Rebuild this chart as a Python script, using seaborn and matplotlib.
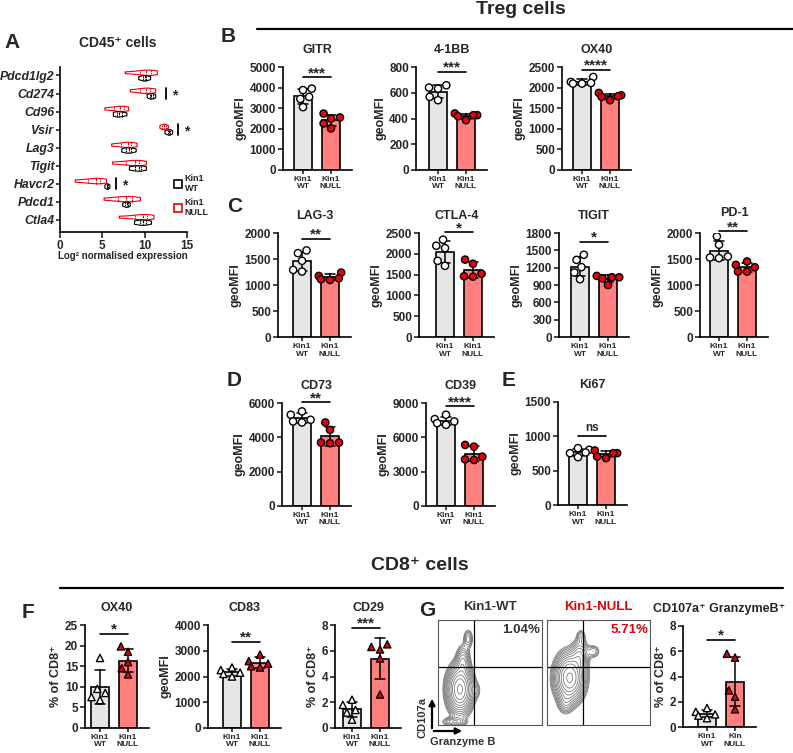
import numpy as np
import pandas as pd
import matplotlib
matplotlib.use('Agg')
import matplotlib.pyplot as plt
import seaborn as sns
from matplotlib.lines import Line2D
from matplotlib.patches import FancyArrowPatch

sns.set_theme(style='ticks')
plt.rcParams['font.family'] = ['Liberation Sans', 'DejaVu Sans']
plt.rcParams['font.weight'] = 'bold'
plt.rcParams['axes.labelweight'] = 'bold'
plt.rcParams['axes.titleweight'] = 'bold'

# ---------------- data ----------------
GROUPS = ['WT', 'NULL']
XT = ['Kin1\nWT', 'Kin1\nNULL']
XT_G = ['Kin1\nWT', 'Kin\nNULL']

# Panel A: log2 normalised expression (CD45+ cells)
GENES = ['Pdcd1lg2', 'Cd274', 'Cd96', 'Vsir', 'Lag3', 'Tigit', 'Havcr2', 'Pdcd1', 'Ctla4']
A_NULL = [[7.7, 9.0, 9.8, 10.2, 10.5, 11.0, 11.5],
          [8.3, 9.2, 9.8, 10.1, 10.4, 10.9, 11.3],
          [5.3, 6.0, 6.8, 7.1, 7.3, 7.7, 8.1],
          [11.8, 12.0, 12.2, 12.3, 12.4, 12.6, 12.8],
          [6.1, 6.9, 7.6, 8.0, 8.2, 8.6, 9.1],
          [6.2, 7.4, 8.3, 8.8, 9.1, 9.6, 10.2],
          [1.8, 2.8, 3.7, 4.2, 4.5, 5.0, 5.5],
          [5.2, 6.4, 7.3, 7.8, 8.1, 8.8, 9.5],
          [7.0, 8.3, 9.3, 9.8, 10.0, 10.5, 11.1]]
A_WT = [[9.3, 9.8, 10.0, 10.2, 10.7],
        [10.3, 10.6, 10.8, 11.0, 11.3],
        [6.3, 6.7, 7.0, 7.3, 7.9],
        [12.4, 12.7, 12.9, 13.0, 13.3],
        [7.3, 7.8, 8.1, 8.4, 9.0],
        [8.2, 8.8, 9.3, 9.6, 10.2],
        [5.3, 5.5, 5.6, 5.7, 5.9],
        [7.4, 7.7, 7.9, 8.0, 8.3],
        [8.8, 9.4, 9.8, 10.1, 10.8]]
A_SIG_GENES = ['Cd274', 'Vsir', 'Havcr2']
A_SIG_BAR_X = [12.5, 13.9, 6.6]
A_SIG_STAR_X = [13.6, 15.0, 7.6]

# Treg cells (geoMFI)
GITR_WT = [3950, 3880, 3550, 3450, 3050]
GITR_NULL = [2740, 2550, 2500, 2260, 2020]
BB_WT = [658, 640, 632, 568, 542]
BB_NULL = [439, 426, 426, 418, 387]
OX40T_WT = [2258, 2137, 2113, 2097, 2097]
OX40T_NULL = [1871, 1815, 1774, 1790, 1694]
LAG3_WT = [1665, 1613, 1465, 1290, 1258]
LAG3_NULL = [1239, 1174, 1129, 1110, 1097]
CTLA4_WT = [2339, 2194, 2137, 1831, 1710]
CTLA4_NULL = [1860, 1760, 1520, 1460, 1450]
TIGIT_WT = [1423, 1335, 1209, 1116, 1000]
TIGIT_NULL = [1057, 1034, 1034, 1017, 900]
PD1_WT = [1935, 1774, 1548, 1529, 1516]
PD1_NULL = [1452, 1387, 1342, 1258, 1258]
CD73_WT = [5511, 5316, 5023, 4925, 4866]
CD73_NULL = [4866, 4436, 3694, 3655, 3694]
CD39_WT = [7974, 7593, 7388, 7095, 7241]
CD39_NULL = [5335, 5189, 4310, 4017, 4076]
KI67_WT = [828, 804, 765, 755, 697]
KI67_NULL = [794, 755, 755, 706, 682]

# CD8+ cells
OX40C_WT = [17.0, 9.5, 8.5, 7.5, 6.8]
OX40C_NULL = [19.8, 18.5, 16.0, 14.5, 13.0]
CD83_WT = [2350, 2250, 2150, 2100, 2000]
CD83_NULL = [2850, 2600, 2500, 2400, 2350]
CD29_WT = [2.2, 1.8, 1.4, 1.2, 0.65]
CD29_NULL = [6.5, 6.3, 6.1, 5.4, 2.6]
CD107_WT = [1.5, 1.2, 1.0, 0.9, 0.7]
CD107_NULL = [5.8, 5.5, 2.9, 2.4, 1.4]

# Flow-cytometry contour populations (fractional axis units)
FLOW_WT_CX = [0.21, 0.24, 0.29, 0.16, 0.36]
FLOW_WT_CY = [0.34, 0.60, 0.82, 0.03, 0.33]
FLOW_WT_SX = [0.06, 0.035, 0.025, 0.06, 0.03]
FLOW_WT_SY = [0.11, 0.08, 0.05, 0.025, 0.05]
FLOW_WT_W = [1.0, 0.2, 0.1, 0.15, 0.05]
FLOW_NULL_CX = [0.22, 0.32, 0.45, 0.33, 0.18]
FLOW_NULL_CY = [0.45, 0.66, 0.70, 0.84, 0.22]
FLOW_NULL_SX = [0.07, 0.045, 0.035, 0.025, 0.04]
FLOW_NULL_SY = [0.11, 0.08, 0.035, 0.04, 0.06]
FLOW_NULL_W = [1.0, 0.2, 0.08, 0.07, 0.12]

# ---------------- figure ----------------
W, H = 793, 753
fig = plt.figure(figsize=(W / 100, H / 100), dpi=100)

RED = '#e8000b'
PAL_BAR = {'WT': '#e6e6e6', 'NULL': '#ff7f7f'}
PAL_PT = {'WT': 'white', 'NULL': RED}


def add_px(x0, y0, x1, y1):
    return fig.add_axes([x0 / W, 1 - y1 / H, (x1 - x0) / W, (y1 - y0) / H])


def style_axes(ax):
    sns.despine(ax=ax)
    for s in ['left', 'bottom']:
        ax.spines[s].set_linewidth(1.2)
        ax.spines[s].set_color('black')


def bar_panel(x0, ytop, ybot, off, title, wt, null, ymax, ystep, ylabel,
              sig, sig_y, marker='o', xt=XT, tpad=10):
    spacing = 28
    x1 = x0 + off + spacing + 21
    ax = add_px(x0, ytop, x1, ybot)
    df = pd.DataFrame({'group': ['WT'] * len(wt) + ['NULL'] * len(null),
                       'value': list(wt) + list(null)})
    sns.barplot(data=df, x='group', y='value', hue='group', order=GROUPS,
                hue_order=GROUPS, palette=PAL_BAR, saturation=1, errorbar='sd',
                capsize=0.35, err_kws={'color': 'black', 'linewidth': 1.1},
                edgecolor='black', linewidth=1.2, width=0.64, legend=False, ax=ax)
    sns.swarmplot(data=df, x='group', y='value', hue='group', order=GROUPS,
                  hue_order=GROUPS, palette=PAL_PT, marker=marker, size=5.2,
                  edgecolor='black', linewidth=1.0, legend=False, ax=ax)
    ax.set_xlim(-off / spacing, 1 + 21 / spacing)
    ax.set_ylim(0, ymax)
    ax.set_yticks(np.arange(0, ymax + ystep / 2, ystep))
    ax.set_xticks([0, 1])
    ax.set_xticklabels(xt, fontsize=6, fontweight='bold', linespacing=1.05)
    ax.tick_params(axis='y', length=3.5, width=1.2, labelsize=8.5, pad=1.5)
    ax.tick_params(axis='x', length=3, width=1.2, pad=1.5)
    for t in ax.get_yticklabels():
        t.set_fontweight('bold')
    ax.set_xlabel('')
    ax.set_ylabel(ylabel, fontsize=9, fontweight='bold', labelpad=2)
    ax.set_title(title, fontsize=9, fontweight='bold', pad=tpad)
    style_axes(ax)
    ax.plot([0, 1], [sig_y, sig_y], color='black', lw=1.2, clip_on=False)
    if sig == 'ns':
        ax.annotate('ns', (0.5, sig_y), xytext=(0, 1.5), textcoords='offset points',
                    ha='center', va='bottom', fontsize=8.5, fontweight='bold',
                    annotation_clip=False)
    else:
        ax.annotate(sig, (0.5, sig_y), xytext=(0, -2), textcoords='offset points',
                    ha='center', va='bottom', fontsize=11, fontweight='bold',
                    annotation_clip=False)
    return ax


# ---- Panel A ----
axA = add_px(60, 67, 187, 232)
rows = []
for g, nl, wt in zip(GENES, A_NULL, A_WT):
    rows += [(g, 'NULL', v) for v in nl]
    rows += [(g, 'WT', v) for v in wt]
dfa = pd.DataFrame(rows, columns=['gene', 'group', 'value'])
sns.violinplot(data=dfa, y='gene', x='value', hue='group', order=GENES,
               hue_order=['NULL', 'WT'], palette={'NULL': RED, 'WT': 'black'},
               saturation=1, fill=False, inner='quart', linewidth=0.8, width=0.6,
               cut=0, density_norm='width', legend=False, ax=axA)
axA.set_xlim(0, 15)
axA.set_ylim(8.67, -0.47)
axA.set_xticks([0, 5, 10, 15])
axA.set_xlabel('')
axA.set_ylabel('')
axA.tick_params(axis='y', length=3, width=1.2, labelsize=8.8, pad=1)
axA.tick_params(axis='x', length=4, width=1.2, labelsize=8.5, pad=2)
for t in axA.get_yticklabels():
    t.set_fontstyle('italic')
    t.set_fontweight('bold')
for t in axA.get_xticklabels():
    t.set_fontweight('bold')
style_axes(axA)
for g, bx, sx in zip(A_SIG_GENES, A_SIG_BAR_X, A_SIG_STAR_X):
    i = GENES.index(g)
    axA.plot([bx, bx], [i - 0.3, i + 0.3], color='black', lw=1.3, clip_on=False)
    axA.text(sx, i + 0.12, '*', ha='center', va='center', fontsize=10,
             fontweight='bold', clip_on=False)
handles = [Line2D([], [], marker='s', ls='', mfc='none', mec='black', ms=5.5, mew=1.2),
           Line2D([], [], marker='s', ls='', mfc='none', mec=RED, ms=5.5, mew=1.2)]
axA.legend(handles, ['Kin1\nWT', 'Kin1\nNULL'], loc='upper left',
           bbox_to_anchor=((171 - 60) / 127, (232 - 170) / 165), frameon=False,
           handletextpad=0.3, labelspacing=0.5, borderaxespad=0, handlelength=0.8,
           prop={'weight': 'bold', 'size': 6.5})
fig.text(118 / W, 1 - 43 / H, 'CD45⁺ cells', ha='center', va='center',
         fontsize=10, fontweight='bold')
fig.text(123 / W, 1 - 256 / H, 'Log² normalised expression', ha='center',
         va='center', fontsize=7, fontweight='bold')

# ---- Treg panels ----
bar_panel(283, 67, 170, 20, 'GITR', GITR_WT, GITR_NULL, 5000, 1000, 'geoMFI', '***', 4500)
bar_panel(416, 67, 170, 22, '4-1BB', BB_WT, BB_NULL, 800, 200, 'geoMFI', '***', 760)
bar_panel(562, 67, 170, 20, 'OX40', OX40T_WT, OX40T_NULL, 2500, 500, 'geoMFI', '****', 2435)
bar_panel(278, 233, 337, 24, 'LAG-3', LAG3_WT, LAG3_NULL, 2000, 500, 'geoMFI', '**', 1884)
bar_panel(419, 233, 337, 26, 'CTLA-4', CTLA4_WT, CTLA4_NULL, 2500, 500, 'geoMFI', '*', 2516)
bar_panel(559, 233, 337, 21, 'TIGIT', TIGIT_WT, TIGIT_NULL, 1800, 300, 'geoMFI', '*', 1645)
bar_panel(700, 233, 337, 19, 'PD-1', PD1_WT, PD1_NULL, 2000, 500, 'geoMFI', '**', 2032, tpad=12)
bar_panel(282, 403, 506, 20, 'CD73', CD73_WT, CD73_NULL, 6000, 2000, 'geoMFI', '**', 6030)
bar_panel(426, 403, 506, 20, 'CD39', CD39_WT, CD39_NULL, 9000, 3000, 'geoMFI', '****', 8707)
bar_panel(558, 402, 505, 20, 'Ki67', KI67_WT, KI67_NULL, 1500, 500, 'geoMFI', 'ns', 1000)

# ---- CD8 panels ----
bar_panel(85, 625, 728, 15, 'OX40', OX40C_WT, OX40C_NULL, 25, 5, '% of CD8⁺', '*', 22.8, marker='^')
bar_panel(208, 625, 728, 24, 'CD83', CD83_WT, CD83_NULL, 4000, 1000, 'geoMFI', '**', 3355, marker='^')
bar_panel(335, 625, 728, 17, 'CD29', CD29_WT, CD29_NULL, 8, 2, '% of CD8⁺', '***', 7.8, marker='^')
bar_panel(683, 626, 727, 24, 'CD107a⁺ GranzymeB⁺', CD107_WT, CD107_NULL, 8, 2, '% of CD8⁺',
          '*', 6.9, marker='^', xt=XT_G)

# ---- Flow plots ----
gx = np.linspace(0, 1, 240)
GX, GY = np.meshgrid(gx, gx)


def flow_panel(x0, x1, cx, cy, sx, sy, w, title, tcolor, pct, pcolor):
    ax = add_px(x0, 620, x1, 725)
    Z = np.zeros_like(GX)
    for a, b, c, d, e in zip(cx, cy, sx, sy, w):
        Z += e * np.exp(-0.5 * (((GX - a) / c) ** 2 + ((GY - b) / d) ** 2))
    levels = Z.max() * np.geomspace(0.025, 0.92, 13)
    ax.contour(GX, GY, Z, levels=levels, colors='#707070', linewidths=0.55)
    ax.axvline(0.35, color='black', lw=0.9)
    ax.axhline(0.55, color='black', lw=0.9)
    ax.set_xlim(0, 1)
    ax.set_ylim(0, 1)
    ax.set_xticks([])
    ax.set_yticks([])
    for s in ax.spines.values():
        s.set_linewidth(0.8)
        s.set_color('#555555')
    ax.set_title(title, fontsize=9.5, fontweight='bold', color=tcolor, pad=7)
    ax.text(0.98, 0.96, pct, transform=ax.transAxes, ha='right', va='top',
            fontsize=9.5, fontweight='bold', color=pcolor)
    return ax


flow_panel(438, 542, FLOW_WT_CX, FLOW_WT_CY, FLOW_WT_SX, FLOW_WT_SY, FLOW_WT_W,
           'Kin1-WT', '#333333', '1.04%', '#333333')
flow_panel(547, 650, FLOW_NULL_CX, FLOW_NULL_CY, FLOW_NULL_SX, FLOW_NULL_SY, FLOW_NULL_W,
           'Kin1-NULL', RED, '5.71%', RED)

fig.add_artist(FancyArrowPatch((432 / W, 1 - 731 / H), (432 / W, 1 - 696 / H),
                               transform=fig.transFigure, arrowstyle='-|>',
                               mutation_scale=9, lw=1.6, color='black'))
fig.add_artist(FancyArrowPatch((431 / W, 1 - 731 / H), (465 / W, 1 - 731 / H),
                               transform=fig.transFigure, arrowstyle='-|>',
                               mutation_scale=9, lw=1.6, color='black'))
fig.text(422 / W, 1 - 718 / H, 'CD107a', rotation=90, ha='center', va='center',
         fontsize=8, fontweight='bold', color='#333333')
fig.text(430 / W, 1 - 742 / H, 'Granzyme B', ha='left', va='center',
         fontsize=8, fontweight='bold', color='#333333')

# ---- Section headers and panel letters ----
fig.text(521 / W, 1 - 9 / H, 'Treg cells', ha='center', va='center',
         fontsize=14, fontweight='bold')
fig.add_artist(Line2D([257 / W, 1.0], [1 - 29 / H, 1 - 29 / H], color='black',
                      lw=1.6, transform=fig.transFigure))
fig.text(420 / W, 1 - 565 / H, 'CD8⁺ cells', ha='center', va='center',
         fontsize=14, fontweight='bold')
fig.add_artist(Line2D([60 / W, 783 / W], [1 - 588 / H, 1 - 588 / H], color='black',
                      lw=1.6, transform=fig.transFigure))

for lab, x, y in [('A', 12, 42), ('B', 228, 36), ('C', 235, 207), ('D', 234, 380),
                  ('E', 509, 380), ('F', 28, 612), ('G', 427, 610)]:
    fig.text(x / W, 1 - y / H, lab, ha='center', va='center', fontsize=15,
             fontweight='bold')

fig.savefig('out.png', dpi=100)
